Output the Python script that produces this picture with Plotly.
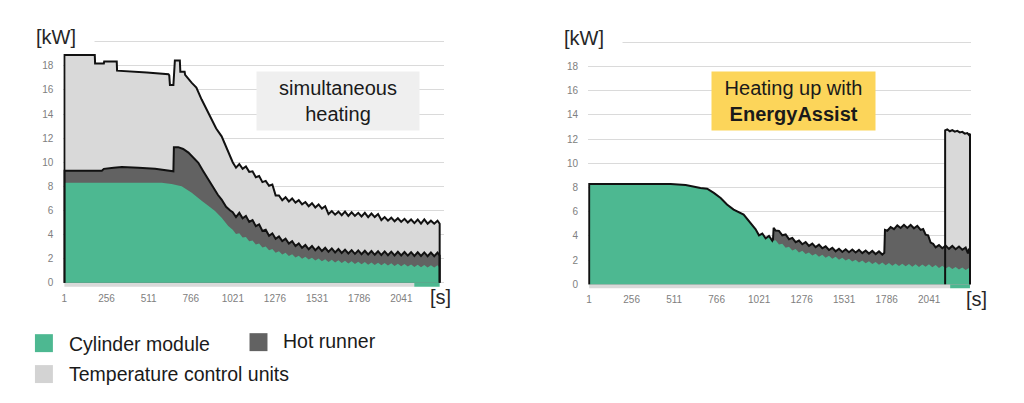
import plotly.graph_objects as go

# ---------------- shared axis data ----------------
X_TICKS = [1, 256, 511, 766, 1021, 1276, 1531, 1786, 2041]
Y_TICKS = [0, 2, 4, 6, 8, 10, 12, 14, 16, 18, 20]
Y_TICK_TEXT = ["0", "2", "4", "6", "8", "10", "12", "14", "16", "18", ""]
SERIES_NAMES = ["Cylinder module", "Hot runner", "Temperature control units"]

# ---------------- left chart: simultaneous heating (cumulative levels, kW) ----------------
L_NOISE_X = [1020, 1040, 1060, 1080, 1100, 1120, 1140, 1160, 1180, 1200,
             1220, 1240, 1260, 1280, 1300, 1320, 1340, 1360, 1380, 1400,
             1420, 1440, 1460, 1480, 1500, 1520, 1540, 1560, 1580, 1600,
             1620, 1640, 1660, 1680, 1700, 1720, 1740, 1760, 1780, 1800,
             1820, 1840, 1860, 1880, 1900, 1920, 1940, 1960, 1980, 2000,
             2020, 2040, 2060, 2080, 2100, 2120, 2140, 2160, 2180, 2200,
             2220, 2240, 2260, 2273]

L_GREEN_X0 = [1, 590, 650, 711, 772, 832, 872, 913, 953, 993]
L_GREEN_Y0 = [8.3, 8.3, 8.2, 8.0, 7.46, 6.8, 6.4, 5.95, 5.4, 4.7]
L_GREEN_YN = [4.4, 4.05, 4.1, 3.75, 3.8, 3.45, 3.5, 3.18, 3.25, 2.92,
              3.0, 2.7, 2.8, 2.5, 2.62, 2.35, 2.48, 2.22, 2.36, 2.1,
              2.25, 2.0, 2.16, 1.92, 2.08, 1.85, 2.02, 1.79, 1.96, 1.73,
              1.9, 1.68, 1.86, 1.64, 1.82, 1.6, 1.78, 1.56, 1.75, 1.53,
              1.72, 1.5, 1.69, 1.48, 1.67, 1.46, 1.65, 1.43, 1.62, 1.4,
              1.58, 1.37, 1.55, 1.35, 1.52, 1.31, 1.5, 1.29, 1.48, 1.27,
              1.46, 1.26, 1.45, 1.25]

L_HOT_X0 = [1, 228, 240, 300, 349, 450, 550, 661, 664, 690, 720, 752, 780,
            812, 840, 872, 900, 930, 953, 980, 1005]
L_HOT_Y0 = [9.3, 9.3, 9.45, 9.55, 9.6, 9.55, 9.45, 9.25, 11.25, 11.25, 11.1,
            10.8, 10.4, 9.95, 9.3, 8.6, 7.9, 7.3, 6.9, 6.3, 6.0]
L_HOT_YN = [5.85, 5.45, 5.8, 5.35, 5.55, 5.05, 5.2, 4.7, 4.85, 4.3,
            4.4, 3.9, 4.1, 3.65, 3.85, 3.45, 3.65, 3.25, 3.45, 3.05,
            3.27, 2.9, 3.13, 2.78, 3.05, 2.7, 2.97, 2.63, 2.9, 2.57,
            2.85, 2.52, 2.8, 2.47, 2.75, 2.43, 2.71, 2.4, 2.68, 2.37,
            2.65, 2.35, 2.63, 2.32, 2.61, 2.3, 2.6, 2.29, 2.58, 2.27,
            2.57, 2.26, 2.55, 2.25, 2.54, 2.23, 2.53, 2.22, 2.52, 2.21,
            2.51, 2.2, 2.5, 2.25]

L_TEMP_X0 = [1, 185, 187, 240, 242, 318, 320, 500, 631, 636, 640, 661, 666,
             670, 700, 703, 729, 732, 771, 800, 832, 860, 892, 920, 953, 993]
L_TEMP_Y0 = [18.9, 18.9, 18.2, 18.2, 18.35, 18.35, 17.6, 17.45, 17.3, 17.2,
             16.4, 16.4, 17.5, 18.45, 18.45, 17.5, 17.5, 17.25, 16.6, 16.2,
             15.2, 14.4, 13.5, 12.8, 12.15, 10.8]
L_TEMP_YN = [10.0, 9.55, 9.85, 9.45, 9.65, 9.2, 9.25, 8.75, 8.85, 8.35,
             8.45, 8.05, 8.15, 7.25, 7.25, 6.85, 7.1, 6.75, 7.0, 6.65,
             6.85, 6.5, 6.7, 6.35, 6.6, 6.25, 6.5, 6.15, 6.35, 5.7,
             5.95, 5.65, 5.9, 5.6, 5.9, 5.55, 5.85, 5.55, 5.8, 5.5,
             5.8, 5.45, 5.75, 5.45, 5.7, 5.2, 5.45, 5.15, 5.4, 5.1,
             5.35, 5.05, 5.3, 5.0, 5.25, 4.95, 5.25, 4.9, 5.25, 4.9,
             5.15, 4.9, 5.15, 4.9]

# ---------------- right chart: heating up with EnergyAssist ----------------
R_NOISE_X = [1000, 1020, 1040, 1060, 1080, 1100, 1120, 1140, 1160, 1180,
             1200, 1220, 1240, 1260, 1280, 1300, 1320, 1340, 1360, 1380,
             1400, 1420, 1440, 1460, 1480, 1500, 1520, 1540, 1560, 1580,
             1600, 1620, 1640, 1660, 1680, 1700, 1720, 1740, 1760, 1780,
             1800, 1820, 1840, 1860, 1880, 1900, 1920, 1940, 1960, 1980,
             2000, 2020, 2040, 2060, 2080, 2100, 2120, 2140, 2160, 2180,
             2200, 2220, 2240, 2260, 2280, 2286]

R_GREEN_X0 = [1, 490, 580, 669, 709, 749, 790, 828, 868, 928, 968]
R_GREEN_Y0 = [8.3, 8.3, 8.2, 7.97, 7.9, 7.56, 7.14, 6.6, 6.18, 5.77, 5.08]
R_GREEN_YN = [4.55, 4.05, 4.2, 3.8, 4.0, 3.6, 3.65, 3.3, 3.35, 3.02,
              3.1, 2.8, 2.92, 2.64, 2.77, 2.5, 2.64, 2.38, 2.53, 2.28,
              2.44, 2.2, 2.36, 2.12, 2.28, 2.04, 2.2, 1.96, 2.12, 1.88,
              2.04, 1.8, 1.97, 1.74, 1.91, 1.68, 1.85, 1.62, 1.8, 1.58,
              1.76, 1.54, 1.73, 1.52, 1.71, 1.5, 1.68, 1.46, 1.65, 1.44,
              1.63, 1.45, 1.67, 1.42, 1.59, 1.36, 1.53, 1.3, 1.48, 1.26,
              1.44, 1.22, 1.4, 1.18, 1.36, 1.2]

R_HOT_START = 1100  # hot runner adds power only after this time
R_HOT_X = [1104, 1108, 1120, 1140, 1160, 1180, 1200, 1220, 1240, 1260, 1280,
           1300, 1320, 1340, 1360, 1380, 1400, 1420, 1440, 1460, 1480, 1500,
           1520, 1540, 1560, 1580, 1600, 1620, 1640, 1660, 1680, 1700, 1720,
           1740, 1760, 1772, 1776, 1790, 1810, 1830, 1850, 1870, 1890, 1910,
           1930, 1950, 1970, 1990, 2005, 2020, 2035, 2050, 2065, 2080, 2100,
           2120, 2140, 2160, 2180, 2200, 2220, 2240, 2260, 2274, 2280, 2286]
R_HOT_Y = [3.7, 4.67, 4.45, 4.42, 4.05, 4.12, 3.73, 3.84, 3.48, 3.62, 3.31,
           3.5, 3.18, 3.37, 3.08, 3.28, 2.98, 3.14, 2.84, 3.02, 2.73, 2.94,
           2.68, 2.9, 2.65, 2.88, 2.63, 2.85, 2.58, 2.8, 2.54, 2.76, 2.5,
           2.72, 2.46, 2.6, 4.5, 4.43, 4.74, 4.56, 4.87, 4.66, 4.92, 4.66,
           4.92, 4.63, 4.84, 4.5, 4.57, 4.1, 4.05, 3.45, 3.35, 3.06, 3.24,
           2.98, 3.2, 2.93, 3.17, 2.9, 3.12, 2.86, 3.04, 2.55, 2.95, 2.8]

R_TEMP_X = [2137, 2150, 2165, 2180, 2195, 2210, 2225, 2240, 2255, 2270, 2280, 2286]
R_TEMP_Y = [12.72, 12.8, 12.65, 12.75, 12.62, 12.68, 12.55, 12.6, 12.45, 12.5, 12.35, 12.45]

# ---------------- styles ----------------
GREEN = "#4db891"
DARK = "#626262"
LIGHT = "#d9d9d9"
GRID = "#dadada"
TICK_FONT = dict(family="Liberation Sans, Arial, sans-serif", size=10, color="#808080")
TEXT_FONT = "Liberation Sans, Arial, sans-serif"

fig = go.Figure()


def closed(xs, ys):
    """Drop the outline to the baseline at both ends (vertical edges of the area)."""
    return [xs[0]] + xs + [xs[-1]], [0] + ys + [0]


def add_chart(xa, ya, green, hot, temp):
    # fills (back to front): temperature, hot runner, cylinder module
    for (xs, ys), col, name in [(temp, LIGHT, SERIES_NAMES[2]),
                                (hot, DARK, SERIES_NAMES[1]),
                                (green, GREEN, SERIES_NAMES[0])]:
        fx, fy = closed(xs, ys)
        fig.add_trace(go.Scatter(x=fx, y=fy, mode="none", fill="toself",
                                 fillcolor=col, name=name, showlegend=False,
                                 hoverinfo="skip", xaxis=xa, yaxis=ya))
    # black outlines of the stacked totals
    for xs, ys in [temp, hot]:
        lx, ly = closed(xs, ys)
        fig.add_trace(go.Scatter(x=lx, y=ly, mode="lines",
                                 line=dict(color="#111111", width=2),
                                 showlegend=False, hoverinfo="skip",
                                 xaxis=xa, yaxis=ya))


# left chart
add_chart("x", "y",
          (L_GREEN_X0 + L_NOISE_X, L_GREEN_Y0 + L_GREEN_YN),
          (L_HOT_X0 + L_NOISE_X, L_HOT_Y0 + L_HOT_YN),
          (L_TEMP_X0 + L_NOISE_X, L_TEMP_Y0 + L_TEMP_YN))

# right chart
r_green_x = R_GREEN_X0 + R_NOISE_X
r_green_y = R_GREEN_Y0 + R_GREEN_YN
r_hot_x = [x for x in r_green_x if x <= R_HOT_START] + R_HOT_X
r_hot_y = [y for x, y in zip(r_green_x, r_green_y) if x <= R_HOT_START] + R_HOT_Y
add_chart("x2", "y2",
          (r_green_x, r_green_y),
          (r_hot_x, r_hot_y),
          (R_TEMP_X, R_TEMP_Y))

W, H = 1024, 403


def px(x):
    return x / W


def py(y):
    return 1 - y / H


xaxis_common = dict(tickmode="array", tickvals=X_TICKS,
                    ticktext=[str(v) for v in X_TICKS],
                    showgrid=False, zeroline=False, showline=False, ticks="",
                    tickfont=TICK_FONT, fixedrange=True, ticklabelstandoff=3)
yaxis_common = dict(tickmode="array", tickvals=Y_TICKS, ticktext=Y_TICK_TEXT,
                    range=[-0.4, 20.1], showgrid=True, gridcolor=GRID,
                    gridwidth=1, zeroline=False, showline=False, ticks="",
                    tickfont=TICK_FONT, fixedrange=True, ticklabelstandoff=9)

fig.update_layout(
    width=W, height=H,
    margin=dict(l=0, r=0, t=0, b=0),
    paper_bgcolor="white", plot_bgcolor="white",
    showlegend=False,
    xaxis=dict(domain=[px(61.5), px(443)], range=[-5, 2300], anchor="y", **xaxis_common),
    yaxis=dict(domain=[py(288.3), py(40.6)], anchor="x", **yaxis_common),
    xaxis2=dict(domain=[px(587.3), px(971.2)], range=[-5, 2294], anchor="y2", **xaxis_common),
    yaxis2=dict(domain=[py(289.9), py(41.2)], anchor="x2", **yaxis_common),
)

shapes = []
# x-axis base strip (light grey axis line; green continues at the right end)
for xr, yr, split, end in [("x", "y", 2119, 2273), ("x2", "y2", 2167, 2286)]:
    shapes.append(dict(type="rect", xref=xr, yref=yr, x0=1, x1=split, y0=-0.33, y1=0,
                       fillcolor=LIGHT, line=dict(width=0), layer="between"))
    shapes.append(dict(type="rect", xref=xr, yref=yr, x0=split, x1=end, y0=-0.33, y1=0,
                       fillcolor=GREEN, line=dict(width=0), layer="between"))

# legend swatches
for (x0, y0), col in [((33, 335), GREEN), ((248, 334), DARK), ((33, 366), "#d3d3d3")]:
    shapes.append(dict(type="rect", xref="paper", yref="paper",
                       x0=px(x0), x1=px(x0 + 18), y0=py(y0 + 18), y1=py(y0),
                       fillcolor=col, line=dict(width=0)))
fig.update_layout(shapes=shapes)

ann = []
# unit labels
for x, y in [(31, 37), (560, 38)]:
    ann.append(dict(text="[kW]", xref="paper", yref="paper", x=px(x), y=py(y),
                    xanchor="left", yanchor="middle", showarrow=False, align="left",
                    width=56, bgcolor="white", borderpad=2,
                    font=dict(family=TEXT_FONT, size=20, color="#262626")))
for x, y in [(439, 298), (976, 300)]:
    ann.append(dict(text="[s]", xref="paper", yref="paper", x=px(x), y=py(y),
                    xanchor="center", yanchor="middle", showarrow=False,
                    font=dict(family=TEXT_FONT, size=20, color="#262626")))

# callout boxes
ann.append(dict(text="simultaneous<br>heating", xref="paper", yref="paper",
                x=px(337), y=py(101), xanchor="center", yanchor="middle",
                showarrow=False, width=162, height=58, borderpad=0,
                bgcolor="#efefef", align="center",
                font=dict(family=TEXT_FONT, size=20, color="#1a1a1a")))
ann.append(dict(text="Heating up with<br><b>EnergyAssist</b>", xref="paper", yref="paper",
                x=px(793.5), y=py(101), xanchor="center", yanchor="middle",
                showarrow=False, width=163, height=58, borderpad=0,
                bgcolor="#fcd55a", align="center",
                font=dict(family=TEXT_FONT, size=20, color="#1a1a1a")))

# legend labels
for name, (x, y) in zip(SERIES_NAMES, [(65, 345), (280, 342), (65, 375)]):
    ann.append(dict(text=name, xref="paper", yref="paper", x=px(x), y=py(y),
                    xanchor="left", yanchor="middle", showarrow=False,
                    font=dict(family=TEXT_FONT, size=19.5, color="#1a1a1a")))
fig.update_layout(annotations=ann)

fig.write_html("out.html")
